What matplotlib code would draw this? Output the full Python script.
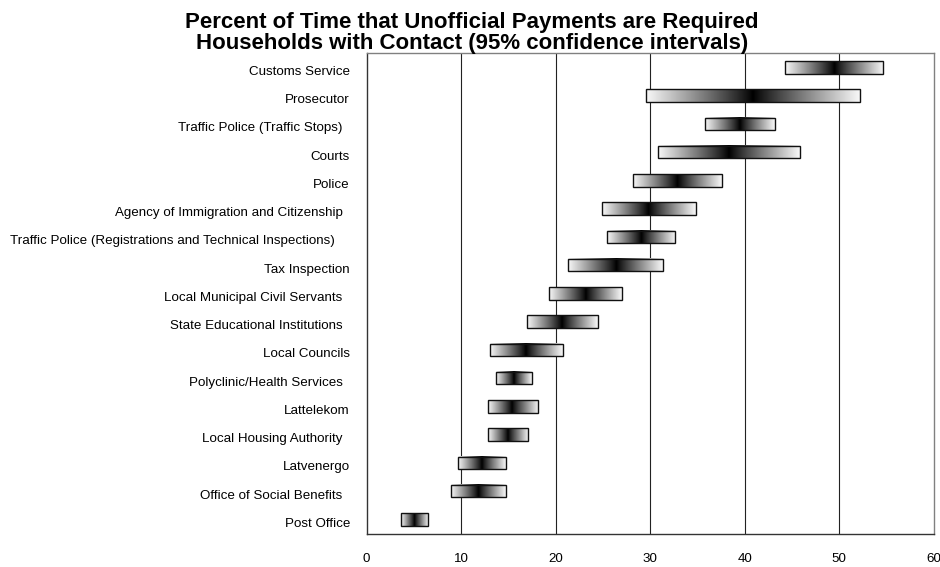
import numpy as np
import matplotlib
matplotlib.use('Agg')
import matplotlib.pyplot as plt
import matplotlib.transforms as mtransforms
from matplotlib.patches import Rectangle

plt.rcParams['font.family'] = ['Liberation Sans', 'DejaVu Sans']

# agencies, top to bottom, with 95% CI low / point estimate / high
agencies = [
    "Customs Service", "Prosecutor", "Traffic Police (Traffic Stops)  ",
    "Courts", "Police", "Agency of Immigration and Citizenship  ",
    "Traffic Police (Registrations and Technical Inspections)    ",
    "Tax Inspection", "Local Municipal Civil Servants  ",
    "State Educational Institutions  ", "Local Councils",
    "Polyclinic/Health Services  ", "Lattelekom", "Local Housing Authority  ",
    "Latvenergo", "Office of Social Benefits  ", "Post Office",
]
ci_low = [44.2, 29.6, 35.8, 30.8, 28.2, 24.9, 25.4, 21.3, 19.3, 17.0,
          13.1, 13.7, 12.8, 12.8, 9.7, 8.9, 3.6]
estimate = [49.4, 40.9, 39.5, 38.3, 32.9, 29.8, 29.0, 26.4, 23.2, 20.7,
            16.9, 15.6, 15.3, 14.9, 12.2, 11.8, 5.0]
ci_high = [54.6, 52.2, 43.2, 45.8, 37.6, 34.8, 32.6, 31.3, 27.0, 24.5,
           20.8, 17.5, 18.1, 17.1, 14.7, 14.7, 6.5]
x_ticks = [0, 10, 20, 30, 40, 50, 60]

fig = plt.figure(figsize=(9.4, 5.67), dpi=100)
ax = fig.add_axes([0.390, 0.059, 0.6035, 0.847])

bar_h = 0.44
n = len(agencies)
for i, (lo, mid, hi) in enumerate(zip(ci_low, estimate, ci_high)):
    xs = np.linspace(lo, hi, 300)
    shade = np.where(xs < mid, (mid - xs) / (mid - lo), (xs - mid) / (hi - mid))
    shade = np.clip(shade, 0, 1) ** 0.9
    ax.imshow(shade[np.newaxis, :], cmap='gray', vmin=0, vmax=1.03,
              extent=(lo, hi, i + bar_h / 2, i - bar_h / 2),
              aspect='auto', interpolation='bilinear', zorder=3)
    ax.add_patch(Rectangle((lo, i - bar_h / 2), hi - lo, bar_h, fill=False,
                           edgecolor='#111111', linewidth=1.0, zorder=4))

ax.set_xlim(0, 60)
ax.set_ylim(n - 0.5, -0.5)
ax.set_xticks(x_ticks)
ax.set_xticklabels([str(t) for t in x_ticks], fontsize=9.6)
ax.set_yticks(range(n))
ax.set_yticklabels(agencies, fontsize=9.6)
ax.tick_params(axis='x', length=0, pad=14)
ax.tick_params(axis='y', length=0, pad=12)

# category labels sit a little below the bar centre
shift = mtransforms.ScaledTranslation(0, -3 / 100, fig.dpi_scale_trans)
for lbl in ax.get_yticklabels():
    lbl.set_transform(lbl.get_transform() + shift)

for t in x_ticks[1:-1]:
    ax.axvline(t, color='#222222', linewidth=0.8, zorder=1)
for side in ['left', 'bottom']:
    ax.spines[side].set_color('#333333')
    ax.spines[side].set_linewidth(1.0)
for side in ['top', 'right']:
    ax.spines[side].set_color('#808080')
    ax.spines[side].set_linewidth(1.0)

fig.text(0.502, 0.950, "Percent of Time that Unofficial Payments are Required",
         ha='center', va='baseline', fontsize=16, fontweight='bold')
fig.text(0.502, 0.913, "Households with Contact (95% confidence intervals)",
         ha='center', va='baseline', fontsize=16, fontweight='bold', zorder=5)

fig.savefig('out.png', dpi=100)
